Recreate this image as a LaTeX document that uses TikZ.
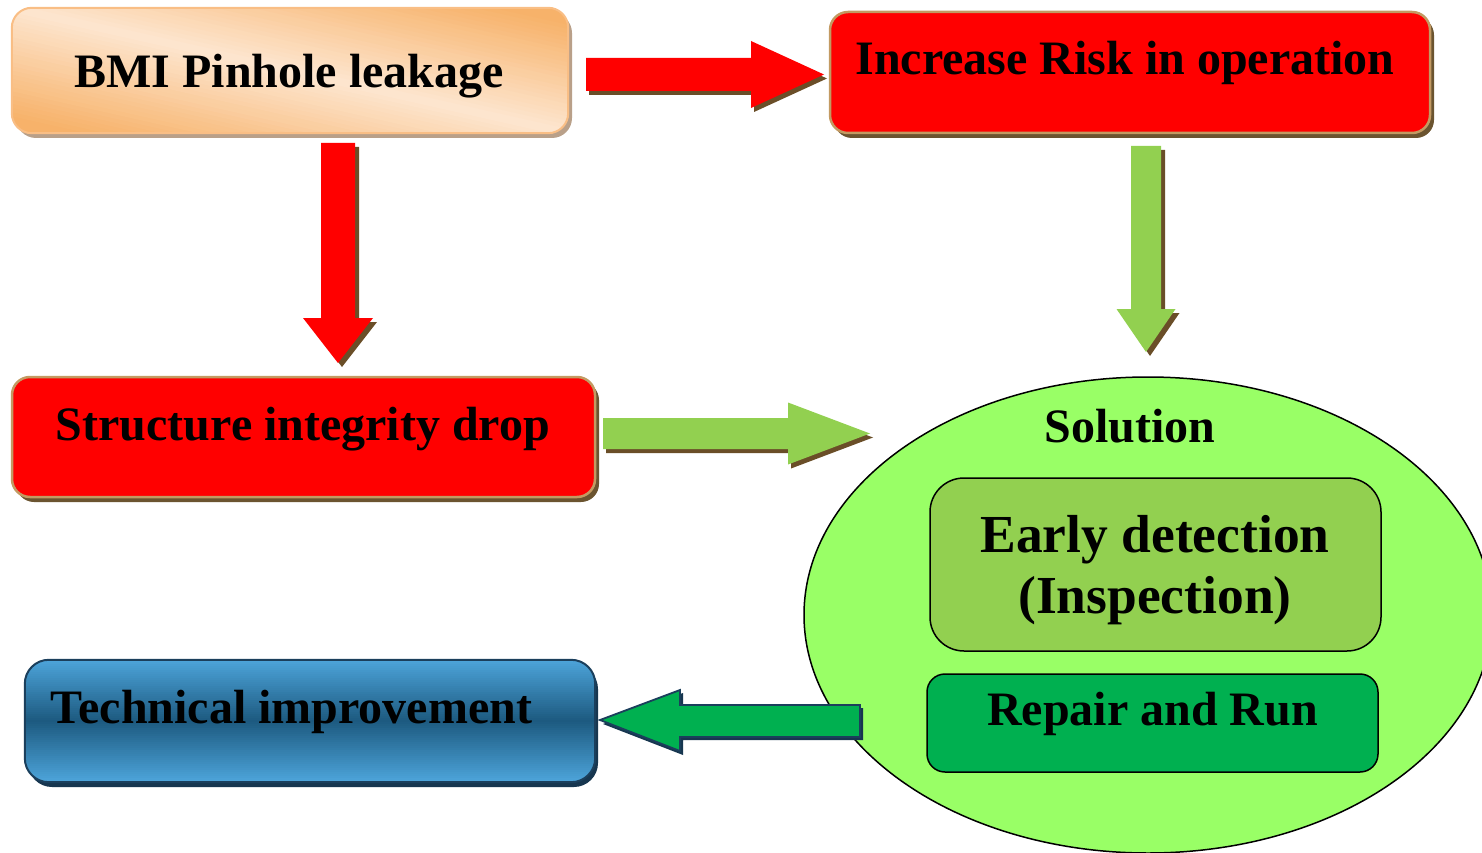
\documentclass[tikz,border=0pt]{standalone}
\usepackage{fontspec}
\setmainfont{Liberation Serif}
\usetikzlibrary{shapes.geometric,shadows}
\definecolor{peachL}{HTML}{FDE6CF}
\definecolor{peachD}{HTML}{F7B26A}
\definecolor{peachB}{HTML}{F9BE85}
\definecolor{peachS}{HTML}{B9A089}
\definecolor{redF}{HTML}{FF0000}
\definecolor{tanB}{HTML}{C39A62}
\definecolor{brownS}{HTML}{6B5430}
\definecolor{arrS}{HTML}{6A4E28}
\definecolor{lgreen}{HTML}{92D050}
\definecolor{dgreen}{HTML}{00B050}
\definecolor{ellF}{HTML}{99FF66}
\definecolor{blueL}{HTML}{4DA5DB}
\definecolor{blueD}{HTML}{1D5A80}
\definecolor{blueB}{HTML}{1B3F5C}
\definecolor{blueS}{HTML}{17364F}
\newcommand\harrow[8]{% tail, base, tip, ycenter, shaft half, head half, fill, shadow
  \fill[#8] ({#1+3},{#4-#5+4}) -- ({#2+3},{#4-#5+4}) -- ({#2+3},{#4-#6+4}) -- ({#3+3},{#4+4}) -- ({#2+3},{#4+#6+4}) -- ({#2+3},{#4+#5+4}) -- ({#1+3},{#4+#5+4}) -- cycle;
  \fill[#7] ({#1},{#4-#5}) -- ({#2},{#4-#5}) -- ({#2},{#4-#6}) -- ({#3},{#4}) -- ({#2},{#4+#6}) -- ({#2},{#4+#5}) -- ({#1},{#4+#5}) -- cycle;}
\newcommand\varrow[8]{% tail, base, tip, xcenter, shaft half, head half, fill, shadow
  \fill[#8] ({#4-#5+4},{#1+4}) -- ({#4-#5+4},{#2+4}) -- ({#4-#6+4},{#2+4}) -- ({#4+4},{#3+4}) -- ({#4+#6+4},{#2+4}) -- ({#4+#5+4},{#2+4}) -- ({#4+#5+4},{#1+4}) -- cycle;
  \fill[#7] ({#4-#5},{#1}) -- ({#4-#5},{#2}) -- ({#4-#6},{#2}) -- ({#4},{#3}) -- ({#4+#6},{#2}) -- ({#4+#5},{#2}) -- ({#4+#5},{#1}) -- cycle;}
\begin{document}
\begin{tikzpicture}[x=1pt,y=-1pt,
  txt/.style={font=\fontsize{48}{57}\selectfont\bfseries, inner sep=0pt, anchor=base},
  bigtxt/.style={font=\fontsize{53.5}{63}\selectfont\bfseries, inner sep=0pt, anchor=base},
  boxbase/.style={rectangle, inner sep=0pt},
  redbox/.style={boxbase, rounded corners=18pt, fill=redF, draw=tanB, line width=2.5pt,
     drop shadow={shadow xshift=4pt, shadow yshift=-5pt, fill=brownS, opacity=1}},
]
\useasboundingbox (0,0) rectangle (1482,853);
\clip (0,0) rectangle (1482,853);

% ---- BMI box (diagonal gradient) ----
\node[boxbase, rounded corners=20pt, fill=peachL,
      drop shadow={shadow xshift=4pt, shadow yshift=-5pt, fill=peachS, opacity=1},
      minimum width=556pt, minimum height=125pt] (bmi) at (290,70.5) {};
\begin{scope}
  \clip[rounded corners=20pt] (12,8) rectangle (568,133);
  \foreach \i in {0,...,59} {
    \pgfmathsetmacro\sa{-1+\i/30}
    \pgfmathsetmacro\sb{-1+(\i+1)/30+0.01}
    \pgfmathtruncatemacro\pc{min(100,abs(-1+(\i+0.5)/30)*115)}
    \fill[peachD!\pc!peachL]
      ({12+(\sa-1)*556},{8-125}) -- ({12+(\sa+2)*556},{8+2*125}) --
      ({12+(\sb+2)*556},{8+2*125}) -- ({12+(\sb-1)*556},{8-125}) -- cycle;
  }
\end{scope}
\draw[peachB, line width=2pt, rounded corners=20pt] (bmi.south west) rectangle (bmi.north east);

% ---- red boxes ----
\node[redbox, minimum width=600pt, minimum height=121pt] (risk) at (1130,72.5) {};
\node[redbox, minimum width=583pt, minimum height=120pt] (struct) at (303.5,437) {};

% ---- technical improvement box (vertical gradient) ----
\node[boxbase, rounded corners=24pt, fill=blueL,
      drop shadow={shadow xshift=3pt, shadow yshift=-5pt, fill=blueS, opacity=1},
      minimum width=570pt, minimum height=122pt] (tech) at (310,721) {};
\begin{scope}
  \clip[rounded corners=24pt] (25,660) rectangle (595,782);
  \foreach \i in {0,...,60} {
    \pgfmathsetmacro\ya{660+\i*2}
    \pgfmathsetmacro\yb{660+\i*2+2.6}
    \pgfmathtruncatemacro\pc{min(100,abs((\i+0.5)/61-0.5)*2*100)}
    \fill[blueL!\pc!blueD] (25,\ya) rectangle (595,\yb);
  }
\end{scope}
\draw[blueB, line width=2pt, rounded corners=24pt] (tech.south west) rectangle (tech.north east);

% ---- solution ellipse ----
\node[ellipse, draw=black, line width=1.5pt, fill=ellF, inner sep=0pt,
      minimum width=688pt, minimum height=476pt] (sol) at (1148,615) {};
\node[boxbase, rounded corners=34pt, draw=black, line width=1.5pt, fill=lgreen,
      minimum width=451pt, minimum height=173pt] (early) at (1155.5,564.5) {};
\node[boxbase, rounded corners=18pt, draw=black, line width=1.5pt, fill=dgreen,
      minimum width=451pt, minimum height=98pt] (repair) at (1152.5,723) {};

% ---- block arrows ----
\harrow{586}{751}{824}{74.5}{16.5}{33.5}{redF}{arrS}
\varrow{143}{318}{363}{338}{17}{35}{redF}{arrS}
\harrow{603}{788}{870}{433.5}{15.5}{31}{lgreen}{arrS}
\varrow{146}{309}{352}{1146}{15}{29.5}{lgreen}{arrS}
% left arrow (solution -> technical improvement)
\fill[blueS] (863,708) -- (683,708) -- (683,693) -- (603,724) -- (683,755) -- (683,740) -- (863,740) -- cycle;
\filldraw[fill=dgreen, draw=blueB, line width=1.8pt]
  (860,705) -- (680,705) -- (680,690) -- (600,720) -- (680,751) -- (680,737) -- (860,737) -- cycle;

% ---- texts ----
\node[txt] (t1) at (289,88) {BMI Pinhole leakage};
\node[txt] (t2) at (1125,75) {Increase Risk in operation};
\node[txt] (t3) at (303,440) {Structure integrity drop};
\node[txt] (t4) at (291.5,723) {Technical improvement};
\node[txt] (t5) at (1130,442) {Solution};
\node[bigtxt] (t6) at (1155,552) {Early detection};
\node[bigtxt] (t7) at (1155,613) {(Inspection)};
\node[txt] (t8) at (1152.5,725) {Repair and Run};
\end{tikzpicture}
\end{document}
